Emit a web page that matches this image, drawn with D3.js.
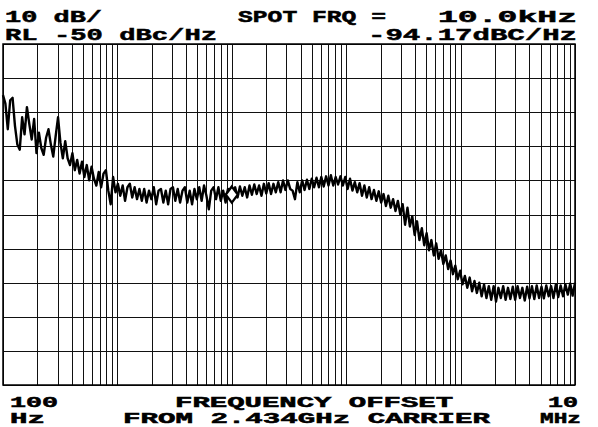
<!DOCTYPE html>
<html>
<head>
<meta charset="utf-8">
<script src="https://cdn.jsdelivr.net/npm/d3@7"></script>
<style>
  body { margin: 0; background: #fff; }
  text { font-family: 'Liberation Mono', 'Courier New', monospace; font-weight: bold; fill: #000; stroke: #000; stroke-width: 0.5; }
</style>
</head>
<body>
<script>
// log sweep of the analyzer, 100 Hz .. 10 MHz
const sweepStartHz = 100;
const sweepStopHz = 1e7;

// trace levels (dBc/Hz), one per sweep point
const levelsDbc = [
  -65.0, -67.5, -75.0, -66.5, -65.8, -74.0, -79.5, -81.0, -71.5, -76.5,
  -68.5, -73.5, -78.0, -72.0, -82.0, -76.0, -80.5, -82.5, -77.5, -75.0,
  -79.5, -83.0, -77.0, -71.5, -79.0, -83.5, -78.5,
  -83.5, -85.5, -82.0, -87.0, -84.0, -88.0, -84.5, -89.0, -85.5, -90.0,
  -86.0, -89.5, -91.5, -87.5, -92.0, -88.0, -87.0, -93.0, -97.0, -89.0, -93.5,
  -91.0, -94.5, -91.5, -96.0, -92.0, -91.0, -95.0, -92.0, -95.5, -92.5,
  -96.0, -92.5, -96.5, -93.0, -95.5, -92.0, -97.0, -93.0, -92.5, -96.5,
  -93.0, -97.0, -92.5, -92.0, -96.0, -92.5, -96.5, -93.0, -92.0, -96.5,
  -93.0, -97.0, -92.5, -95.5, -92.0, -96.0, -91.5, -94.5, -98.5, -93.0,
  -92.0, -95.5, -92.0, -96.0, -93.0, -96.5, -92.5, -95.0,
  -93.5, -92.0, -95.0, -91.8, -94.5, -92.0, -95.0, -91.5, -94.2, -91.2,
  -94.0, -91.5, -94.5, -91.0, -93.8, -90.8, -94.0, -91.0, -93.5, -90.5,
  -93.5, -90.0, -92.8, -90.0, -92.5, -93.0, -95.5, -90.5, -93.5, -90.0,
  -92.8, -89.8, -92.5, -89.5, -92.0, -89.2, -92.0, -89.0, -91.8, -88.8,
  -91.5, -88.5, -91.5, -89.0, -91.2, -88.8,
  -91.5, -89.0, -92.5, -89.5, -93.0, -90.5, -93.5, -90.8, -94.5, -91.5,
  -95.0, -92.0, -95.5, -92.8, -96.0, -93.2, -96.5, -94.0, -97.5, -94.5,
  -98.0, -95.5, -99.0, -96.0, -100.0, -97.0, -103.0, -98.0, -103.5, -100.5,
  -106.0, -102.0, -107.5, -104.0, -109.0, -105.5, -110.5, -107.5, -112.0, -108.5,
  -113.0, -110.5, -114.5, -112.0, -116.0, -113.5, -117.5, -115.0, -119.0, -116.5,
  -120.5, -118.0, -121.5, -118.5, -122.5, -119.5, -123.0, -120.0, -124.0, -120.5,
  -124.5, -121.0, -125.0, -121.0, -125.5, -121.5, -124.5, -121.0, -125.0, -121.5,
  -124.8, -121.2, -125.0, -121.0, -124.5, -121.5, -125.2, -121.2, -124.6, -121.0,
  -124.8, -120.8, -124.5, -121.2, -124.6, -120.8, -124.0, -121.0, -124.5, -120.5,
  -124.2, -120.8, -124.0, -120.5, -123.5, -120.2, -123.8, -120.0
];

// marker
const markerHz = 1e4;
const markerDbc = -94.17;

// screen annotations
const refLevelDbc = -50;
const dbPerDiv = 10;
const divisions = 10;
const headerTexts = ['10 dB/', 'RL -50 dBc/Hz', 'SPOT FRQ =', '10.0kHz', '-94.17dBC/Hz'];
const footerTexts = ['100', 'Hz', 'FREQUENCY OFFSET', 'FROM 2.434GHz CARRIER', '10', 'MHz'];

const width = 598, height = 427;
const plot = { left: 3, right: 575, top: 44, bottom: 385 };

const svg = d3.select('body')
  .append('svg')
  .attr('width', width)
  .attr('height', height);

svg.append('rect')
  .attr('width', width)
  .attr('height', height)
  .attr('fill', '#fff');

const x = d3.scaleLog()
  .domain([sweepStartHz, sweepStopHz])
  .range([plot.left, plot.right]);

const y = d3.scaleLinear()
  .domain([refLevelDbc - dbPerDiv * divisions, refLevelDbc])
  .range([plot.bottom, plot.top]);

// graticule
const grid = svg.append('g')
  .attr('stroke', '#111')
  .attr('shape-rendering', 'crispEdges');

grid.selectAll('.vline')
  .data(x.ticks())
  .enter()
  .append('line')
  .attr('x1', d => Math.round(x(d)) + 0.5)
  .attr('x2', d => Math.round(x(d)) + 0.5)
  .attr('y1', plot.top)
  .attr('y2', plot.bottom)
  .attr('stroke-width', 1);

grid.selectAll('.hline')
  .data(d3.range(divisions + 1).map(i => refLevelDbc - i * dbPerDiv))
  .enter()
  .append('line')
  .attr('x1', plot.left)
  .attr('x2', plot.right)
  .attr('y1', d => Math.round(y(d)) + 0.5)
  .attr('y2', d => Math.round(y(d)) + 0.5)
  .attr('stroke-width', 1);

svg.append('rect')
  .attr('x', plot.left)
  .attr('y', plot.top)
  .attr('width', plot.right - plot.left)
  .attr('height', plot.bottom - plot.top)
  .attr('fill', 'none')
  .attr('stroke', '#000')
  .attr('stroke-width', 1.5);

// trace
const n = levelsDbc.length;
const trace = levelsDbc.map((v, i) => ({
  f: sweepStartHz * Math.pow(sweepStopHz / sweepStartHz, i / (n - 1)),
  v: v
}));

const line = d3.line()
  .x(d => x(d.f))
  .y(d => y(d.v));

svg.append('path')
  .datum(trace)
  .attr('fill', 'none')
  .attr('stroke', '#000')
  .attr('stroke-width', 2.4)
  .attr('stroke-linejoin', 'round')
  .attr('d', line);

// marker diamond
const mx = x(markerHz), my = y(markerDbc);
svg.append('path')
  .attr('d', `M${mx},${my - 8} L${mx + 6},${my} L${mx},${my + 8} L${mx - 6},${my} Z`)
  .attr('fill', '#fff')
  .attr('stroke', '#000')
  .attr('stroke-width', 2.4);

// text
function label(str, x0, x1, baseline, size) {
  svg.append('text')
    .attr('x', x0)
    .attr('y', baseline)
    .attr('font-size', size)
    .attr('textLength', x1 - x0)
    .attr('lengthAdjust', 'spacingAndGlyphs')
    .text(str);
}

label(headerTexts[0], 5, 102, 22, 17);
label(headerTexts[1], 5, 217, 40, 17);
label(headerTexts[2], 238, 386, 22, 17);
label(headerTexts[3], 438, 577, 22, 17);
label(headerTexts[4], 368, 577, 40, 17);

label(footerTexts[0], 10, 58, 407, 14);
label(footerTexts[1], 10, 45, 423, 14);
label(footerTexts[2], 175, 453, 407, 14);
label(footerTexts[3], 123, 490, 423, 14);
label(footerTexts[4], 548, 578, 407, 14);
label(footerTexts[5], 540, 581, 423, 14);
</script>
</body>
</html>
